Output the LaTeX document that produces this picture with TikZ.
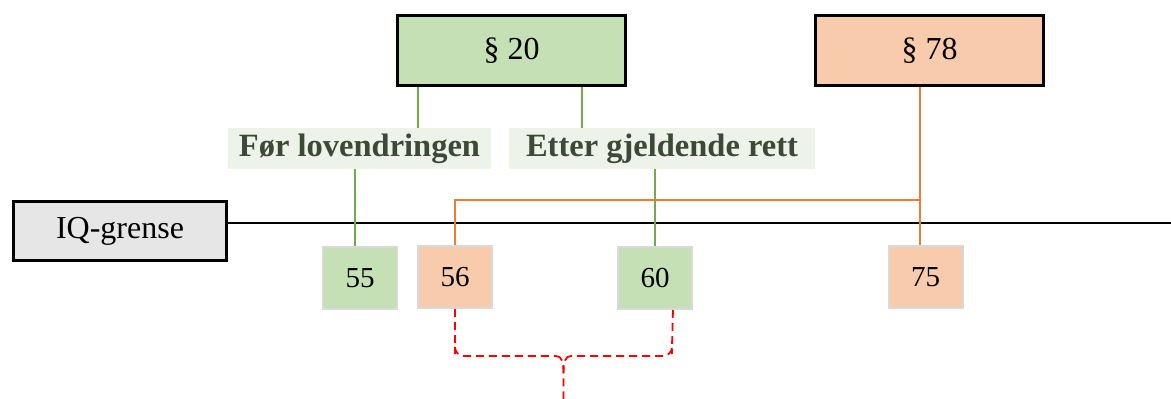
\documentclass[tikz,border=0pt]{standalone}
\usepackage{fontspec}
\setmainfont{Liberation Serif}
\definecolor{boxgreen}{HTML}{C5E0B4}
\definecolor{boxorange}{HTML}{F8CBAD}
\definecolor{boxgray}{HTML}{E7E6E6}
\definecolor{labelbg}{HTML}{EDF3E8}
\definecolor{labeltext}{HTML}{3D4838}
\definecolor{linegreen}{HTML}{70AD47}
\definecolor{lineorange}{HTML}{ED7D31}
\definecolor{smallborder}{HTML}{D9D9D9}
\tikzset{
  bigbox/.style={draw=black, line width=2.5pt, minimum width=228pt, minimum height=70pt, inner sep=0pt, font=\fontsize{32}{36}\selectfont},
  labelbox/.style={fill=labelbg, minimum height=41pt, inner sep=0pt, text=labeltext, font=\fontsize{32.5}{36}\selectfont\bfseries},
  numbox/.style={draw=smallborder, line width=2pt, minimum width=74pt, minimum height=62pt, inner sep=0pt, font=\fontsize{29}{33}\selectfont},
  gline/.style={draw=linegreen, line width=2.2pt},
  oline/.style={draw=lineorange, line width=2.2pt},
  rline/.style={draw=red, line width=1.8pt, dash pattern=on 8pt off 5pt},
}
\begin{document}
\begin{tikzpicture}[x=1pt, y=-1pt]
\useasboundingbox (0,0) rectangle (1171,399);
% top boxes
\node[bigbox, fill=boxgreen] (s20) at (511.5,50.5) {\S\ 20};
\node[bigbox, fill=boxorange] (s78) at (929.5,50.5) {\S\ 78};
% labels
\node[labelbox, minimum width=263pt] (lab1) at (359.5,148.5) {Før lovendringen};
\node[labelbox, minimum width=306pt] (lab2) at (662,148.5) {Etter gjeldende rett};
% IQ box
\node[draw=black, line width=2.5pt, fill=boxgray, minimum width=213pt, minimum height=59pt, inner sep=0pt, font=\fontsize{32}{36}\selectfont] (iq) at (120,231) {IQ-grense};
% number boxes
\node[numbox, fill=boxgreen] (n55) at (360,278) {55};
\node[numbox, fill=boxorange] (n56) at (455,277) {56};
\node[numbox, fill=boxgreen] (n60) at (655,278) {60};
\node[numbox, fill=boxorange] (n75) at (925.5,277) {75};
% axis line
\coordinate (lineend) at (1171,223);
\draw[line width=2pt] (iq.east |- lineend) -- (lineend);
% green connectors
\draw[gline] ([xshift=-93.5pt]s20.south) -- ([xshift=-93.5pt]s20.south |- lab1.north);
\draw[gline] ([xshift=70.5pt]s20.south) -- ([xshift=70.5pt]s20.south |- lab2.north);
\draw[gline] ([xshift=-5pt]n55.north |- lab1.south) -- ([xshift=-5pt]n55.north);
\draw[gline] (n60.north |- lab2.south) -- (n60.north);
% orange connectors
\coordinate (j) at (920,200);
\draw[oline] (j |- s78.south) -- (j |- n75.north);
\draw[oline] (j) -| (n56.north);
% red dashed brace
\coordinate (tipL) at (556,356);
\coordinate (tipR) at (571,356);
\coordinate (tip) at (563.5,374);
\coordinate (tipend) at (563.5,405);
\draw[rline, rounded corners=9pt] (n56.south) -- (455,345) |- (tipL);
\draw[rline, rounded corners=9pt] ([xshift=18pt]n60.south) -- (672,345) |- (tipR);
\draw[rline] (tipL) .. controls (562,356) and (563.5,362) .. (tip) -- (tipend);
\draw[rline] (tipR) .. controls (565,356) and (563.5,362) .. (tip);
\end{tikzpicture}
\end{document}
